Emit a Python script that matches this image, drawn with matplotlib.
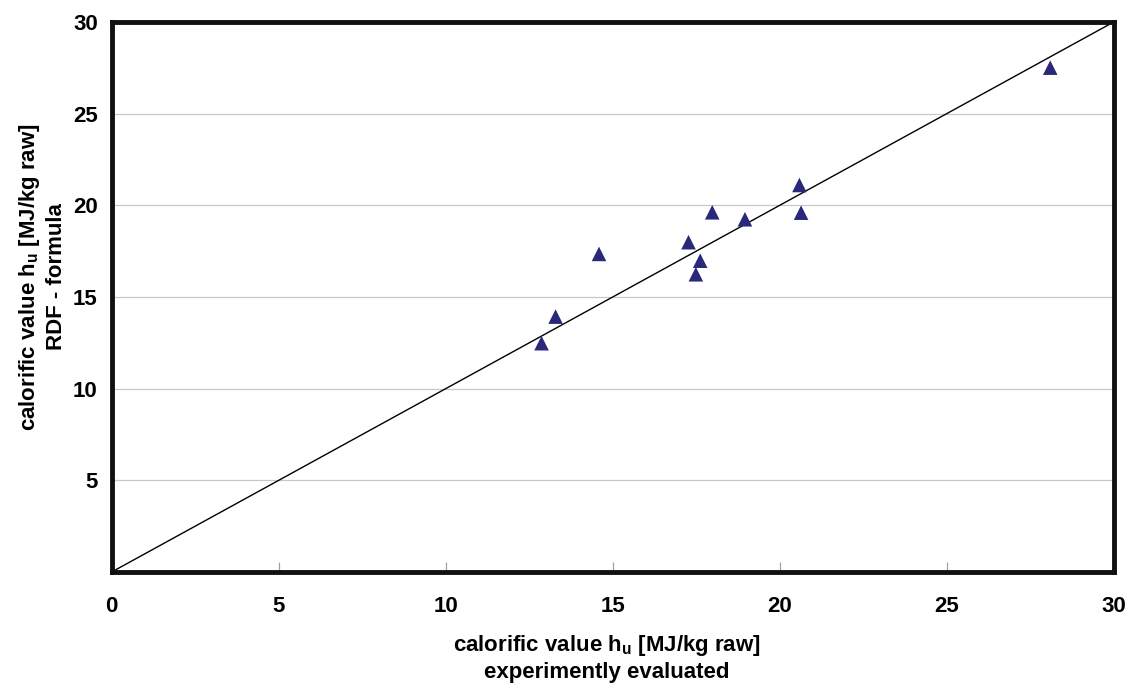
import matplotlib
matplotlib.use("Agg")
import matplotlib.pyplot as plt

# Data
x_experimental = [12.87, 13.29, 14.59, 17.27, 17.62, 17.49, 17.98, 18.96, 20.59, 20.64, 28.10]
y_formula      = [12.48, 13.93, 17.35, 17.99, 16.98, 16.24, 19.62, 19.24, 21.11, 19.60, 27.51]
x_ticks = [0, 5, 10, 15, 20, 25, 30]
y_ticks = [5, 10, 15, 20, 25, 30]
diag = [0, 30]

plt.rcParams['font.family'] = ['Liberation Sans', 'DejaVu Sans']
plt.rcParams['font.weight'] = 'bold'
plt.rcParams['mathtext.fontset'] = 'custom'
plt.rcParams['mathtext.rm'] = 'Liberation Sans:bold'
plt.rcParams['mathtext.default'] = 'rm'

fig = plt.figure(figsize=(11.3, 6.84), dpi=100)
W, H = 1130, 684
left, right, top, bottom = 111.7, 1113.7, 22, 572
ax = fig.add_axes([left / W, 1 - bottom / H, (right - left) / W, (bottom - top) / H])

ax.set_xlim(0, 30)
ax.set_ylim(0, 30)

for yv in [5, 10, 15, 20, 25]:
    ax.axhline(yv, color='#c8c8c8', lw=0.9, zorder=1)

ax.plot(diag, diag, color='black', lw=1.0, zorder=2)
ax.scatter(x_experimental, y_formula, marker='^', s=110, color='#2a2878',
           edgecolors='none', zorder=3)

FS = 16
ax.set_xticks(x_ticks)
ax.set_yticks(y_ticks)
ax.set_xticklabels([str(v) for v in x_ticks], fontsize=FS, fontweight='bold')
ax.set_yticklabels([str(v) for v in y_ticks], fontsize=FS, fontweight='bold')
ax.tick_params(axis='x', direction='in', length=7, width=0.9, color='#a0a0a0', pad=17)
ax.tick_params(axis='y', length=0, pad=10)

for s in ax.spines.values():
    s.set_linewidth(3.5)
    s.set_color('#111111')

fig.text(607 / W, 1 - 658 / H,
         'calorific value h$_{u}$ [MJ/kg raw]\nexperimently evaluated',
         fontsize=FS, fontweight='bold', ha='center', va='center', linespacing=1.2)
fig.text(42 / W, 1 - 277 / H,
         'calorific value h$_{u}$ [MJ/kg raw]\nRDF - formula',
         fontsize=FS, fontweight='bold', ha='center', va='center', rotation=90,
         linespacing=1.2)

fig.savefig('out.png', dpi=100)
